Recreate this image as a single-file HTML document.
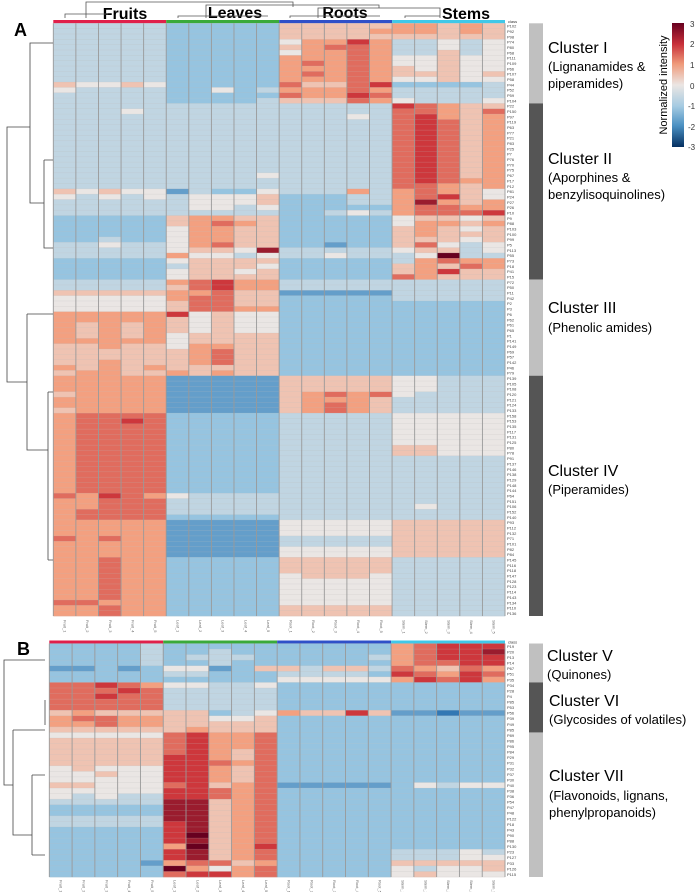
<!DOCTYPE html>
<html><head><meta charset="utf-8">
<style>
html,body{margin:0;padding:0;background:#fff;}
svg{display:block;font-family:"Liberation Sans",sans-serif;}
</style></head>
<body>
<svg id="fig" width="700" height="892" viewBox="0 0 700 892">
<g id="layerA"></g>
<g id="layerB"></g>
<g id="static">
 <text x="14" y="36" font-size="18" font-weight="bold">A</text>
 <text x="17" y="655" font-size="18" font-weight="bold">B</text>
 <g font-size="16" font-weight="bold" text-anchor="middle">
  <text x="125" y="19">Fruits</text>
  <text x="235" y="18">Leaves</text>
  <text x="345" y="18">Roots</text>
  <text x="466" y="19">Stems</text>
 </g>
 <g stroke="#555" stroke-width="0.8" fill="none">
  <path d="M86,18 V2 H293 V7"/>
  <path d="M206,18 V5 H379 V8"/>
  <path d="M318,18 V8 H440 V18"/>
  <path d="M65,18 V14 H108 M178,18 V16 H268 M290,18 V16 H380 M405,18 V16 H440"/>
 </g>
 <g font-size="14">
  <text x="548" y="53" font-size="16">Cluster I</text>
  <text x="548" y="71" font-size="13">(Lignanamides &amp;</text>
  <text x="548" y="88" font-size="13">piperamides)</text>
  <text x="548" y="164" font-size="16">Cluster II</text>
  <text x="548" y="182" font-size="13">(Aporphines &amp;</text>
  <text x="548" y="199" font-size="13">benzylisoquinolines)</text>
  <text x="548" y="313" font-size="16">Cluster III</text>
  <text x="548" y="332" font-size="13">(Phenolic amides)</text>
  <text x="548" y="476" font-size="16">Cluster IV</text>
  <text x="548" y="494" font-size="13">(Piperamides)</text>
  <text x="547" y="661" font-size="16">Cluster V</text>
  <text x="547" y="679" font-size="13">(Quinones)</text>
  <text x="549" y="706" font-size="16">Cluster VI</text>
  <text x="549" y="724" font-size="13">(Glycosides of volatiles)</text>
  <text x="549" y="781" font-size="16">Cluster VII</text>
  <text x="549" y="800" font-size="13">(Flavonoids, lignans,</text>
  <text x="549" y="817" font-size="13">phenylpropanoids)</text>
 </g>
 <defs>
  <linearGradient id="cbg" x1="0" y1="0" x2="0" y2="1">
   <stop offset="0" stop-color="#67001f"/><stop offset="0.17" stop-color="#c8303a"/>
   <stop offset="0.33" stop-color="#ef9a7a"/><stop offset="0.5" stop-color="#ebe6e3"/>
   <stop offset="0.67" stop-color="#a6cbe2"/><stop offset="0.83" stop-color="#4a90c2"/>
   <stop offset="1" stop-color="#053061"/>
  </linearGradient>
 </defs>
 <rect x="672" y="23" width="12" height="124" fill="url(#cbg)"/>
 <g font-size="8" fill="#333">
  <text x="690" y="27">3</text><text x="690" y="47">2</text><text x="690" y="68">1</text>
  <text x="690" y="89">0</text><text x="688" y="109">-1</text><text x="688" y="130">-2</text><text x="688" y="150">-3</text>
 </g>
 <text transform="translate(667,85) rotate(-90)" font-size="11" text-anchor="middle">Normalized intensity</text>
 <g stroke="#444" stroke-width="0.8" fill="none">
  <path d="M53,43 H30 V203 H44"/>
  <path d="M44,160 V248 H53 M44,160 H53"/>
  <path d="M30,127 H7 V382 H27"/>
  <path d="M27,314 V450 H48 M27,314 H53"/>
  <path d="M48,392 V560 M48,392 H53 M48,560 H53"/>
 </g>
 <g stroke="#444" stroke-width="0.8" fill="none">
  <path d="M45,660 H4 V785 H13"/>
  <path d="M13,730 V835 H32 M13,730 H45"/>
  <path d="M32,775 V855 M32,775 H45 M32,855 H45"/>
  <path d="M45,700 V725"/>
 </g>
</g>
</svg>
<script>
// Level codes: A=-2.5 B=-2 C=-1.5 D=-1 E=-0.5 F=0 G=0.5 H=1 I=1.5 J=2 K=2.5 L=3
const tissues=["Fruits","Leaves","Roots","Stems"];
const colLabels=["Fruit_1","Fruit_2","Fruit_3","Fruit_4","Fruit_5","Leaf_1","Leaf_2","Leaf_3","Leaf_4","Leaf_5","Root_1","Root_2","Root_3","Root_4","Root_5","Stem_1","Stem_2","Stem_3","Stem_4","Stem_5"];
const rowsA=["P102","P92","P98","P74","P80","P68","P111","P109","P66","P107","P58","P44","P52","P59","P104",
"P22","P150","P97","P119","P63","P77","P21","P83","P25","P7","P76","P70","P75","P67","P17","P12","P81","P24","P27","P26","P10","P9","P88","P103","P100","P99","P5","P113","P55","P73","P18","P41","P15",
"P72","P50","P11","P42","P2","P3","P6","P62","P61","P65","P1","P141","P149","P69","P57","P142","P46","P79",
"P139","P105","P108","P120","P121","P124","P133","P158","P153","P135","P117","P131","P125","P80","P78","P91","P137","P146","P138","P129","P148","P144","P64","P151","P106","P152","P140","P93","P112","P132","P71","P101","P82","P84","P145","P116","P118","P147","P128","P123","P114","P143","P134","P110","P136"];
const valsA=["EEEEEDDDDDGGGGGHHGHG","EEEEEDDDDDGGGGHHHGHG","EEEEEDDDDDGGGGGGGGGG","EEEEEDDDDDFHHJHEEFEF","EEEEEDDDDDGHIIHEEFEF","EEEEEDDDDDFHHIHEEGEF","EEEEEDDDDDHHHIHFFGFF","EEEEEDDDDDHIHIHFFGFF","EEEEEDDDDDHHHIHGFGFF","EEEEEDDDDDHIHIHGGGFG","EEEEEDDDDDHHHIHFFGFF","GFFGFDDDDDIGGIJDDDDE","FEEEEDDFDEHHHIHEEEEE","EEEEEDDDDDIHHJIEEEEE","EEEEEDDDDEGGGIHFEEEF",
"EEEEEEEEEEEEEEEJIHGG","EEEFEEEEEEEEEEEIIHGI","EEEEEEEEEEEEEFEIJHGH","EEEEEEEEEEEEEEEIJIGH","EEEEEEEEEEEEEEEIJIGH","EEEEEEEEEEEEEEEIJIGH","EEEEEEEEEEEEEEEIJIGH","EEEEEEEEEEEEEEEIJIGH","EEEEEEEEEEEEEEEIJIGH","EEEEEEEEEEEEEEEIJIGH","EEEEEEEEEEEEEEEIJIGH","EEEEEEEEEEEEEEEIJIGH","EEEEEEEEEEEEEEEIJIGH","EEEEEEEEEFEEEEEIJIGH","EEEEEEEEEEEEEEEIJIHH","EEEEEEEEEEEEEEEIIHGH","GFGFFCEDDFEEEHEHIHGF","FEFEFEFFFGDDDEEHIJGF","EEEEEEFFFGDDDEEHKHGH","EEEEEEFFEFDDDDDHIIHH","EEEEEEEEEEDDEFEHIIIJ","DDDDDGHHGGDDDDDFGGFG","DDDDDGHIHGDDDDDFHHGH","DDDDDFHHGGDDDDDGHGFG","DDDDDFHHGGDDDDDGHGGG","DDEDDFHHGGDDDDDGGGFG","EEFEEFHIGGDDCDDGIFEF","EEEEEFGGFKEEEEEFGGEF","EEEEEHFFEFEEFEEEFLEE","DDDDDFGGGGDDDDDEHIHH","DDDDDEGGGFDDDDDGHGIH","DDDDDFGGFGDDDDDGHJGG","DDDDDFGGGGDDDDDIHGGG",
"EEEEEHIJHHEEEEEEEEEE","EEEEEGIJHHEEEEEEEEEE","GGGGGHHIGGCCCCCEEEEE","FFFFFHIIGGDDDDDEEEEE","FFFFFGIIGGDDDDDDDDDD","FFFFFGIIHHDDDDDDDDDD","HHHHHJFGFFDDDDDDDDDD","HHHHHGFGFFDDDDDDDDDD","HGHGHGFGFFDDDDDDDDDD","HGHGHGFGFFDDDDDDDDDD","HGHGHFGGGGDDDDDDDDDD","HHHHHFGGGGDDDDDDDDDD","GGHGGFHHGGDDDDDDDDDD","GGGGGGHIGGDDDDDDDDDD","GGGGGGHIGGDDDDDDDDDD","GGHGGGHIGGDDDDDDDDDD","HGHGHGGGGGDDDDDDDDDD","GHHGGHGHGGDDDDDDDDDD",
"HHHHHCCCCCGGGGGFFEEE","HHHHHCCCCCGGGGGFFEEE","HHHHHCCCCCGGGGGFFEEE","GHHHHCCCCCGHIHIFEEEE","HHHHHCCCCCGHHHGEEEEE","HHHHHCCCCCGHIHGEEEEE","GHHHHCCCCCGHIHGEEEEE","HIIIIDDDDDEEEEEFFFFF","HIIJIDDDDDEEEEEFFFFF","HIIIIDDDDDEEEEEFFFFF","HIIIIDDDDDEEEEEFFFFF","HIIIIDDDDDEEEEEFFFFF","HIIIIDDDDDEEEEEFFFFF","HIIIIDDDDDEEEEEGGFFF","HIIIIDDDDDEEEEEGGFFF","HIIIIDDDDDEEEEEEEEEE","HIIIIDDDDDEEEEEEEEEE","HIIIIDDDDDEEEEEEEEEE","HIIIIDDDDDEEEEEEEEEE","HIIIIDDDDDEEEEEEEEEE","HIIIIDDDDDEEEEEEEEEE","HIIIIDDDDDEEEEEEEEEE","IHJIHFEEEEEEEEEEEEEE","HHIIIEEEEEEEEEEEEEEE","HHIIIEEEEEEEEEEEFEEE","HIIIIEEEEEEEEEEEEEEE","HIIIIDDDDDEEEEEEEEEE","HHHHHCCCCCFFFFFGGGGG","HHHHHCCCCCFFFFFGGGGG","HHHHHCCCCCFFFFFGGGGG","IHIHHCCCCCEEEEEGGGGG","HHHHHCCCCCEEEEEGGGGG","HHHHHCCCCCFFFFFGGGGG","HHHHHCCCCCFFFFFGGGGG","HHIHHDDDDDGGGGGEEEEE","HHIHHDDDDDGGGGGEEEEE","HHIHHDDDDDGGGGGEEEEE","HHIHHDDDDDFGGGFEEEEE","HHIHHDDDDDFFFFFEEEEE","HHIHHDDDDDFFFFFEEEEE","HHIHHDDDDDFFFFFEEEEE","HHIHHDDDDDFFFFFEEEEE","IIHHHDDDDDFFFFFEEEEE","HHIHHDDDDDGGGGGEEEEE","HHIHHDDDDDGGGGGEEEEE"];
const rowsB=["P19","P20","P13","P14","P67","P51","P35","P34","P28","P4","P85","P53","P56","P39","P49","P85",
"P89","P86","P95","P84","P29","P31","P32","P37","P30","P40","P38","P36","P54","P47","P48","P122","P18","P43","P90","P88","P130","P23","P127","P33","P126","P115"];
const valsB=["DDDDEDDDDDDDDDDHIJJJ","DDDDEDDEDDDDDDDHIJJK","DDDDEDEEEDDDDDEHIJJJ","DDDDEDDEDDDDDDDHIIJJ","CCDCDFFCDGGEGGEIHGIH","DDDDDEEDDDEEEEDJIHJI","DDDDDDDDDDFFFFFHJIJH",
"IIJIHFFEEFDDDDDDDDDD","IIIJIEEEEEDDDDDDDDDD","IIJIIEEEEEDDDDDDDDDD","IIIIIEEEEEDDDDDDDDDD","IIIIIEEEEEDDDDDDDDDD","GHGGGGGDEFHGGJGCCBCC","HIIHHGGFFGDDDDDDDDDD","HHIHHGGGGGDDDDDDDDDD","GGGGGGHGGGDDDDDDDDDD",
"FFFFFIJHHIDDDDDDDDDD","GGGGGIJHHIDDDDDDDDDD","GGGGGIJHHIDDDDDDDDDD","GGGGGIJHGIDDDDDDDDDD","GGGGGJJHGIDDDDDDDDDD","GGGGGJJIHIDDDDDDDDDD","FGFFFJJHGIDDDDDDDDDD","FFGFFJJHGIDDDDDDDDDD","FFFFFJJHGIDDDDDDDDDD","GGFFFIJGHICCCCCDFEFF","FFFFFJJIHIDDDDDDDDDD","FEFEEJJIHIDDDDDDDDDD","EEEEEKKGHIDDDDDDDDDD","DDDDDKKGHIDDDDDDDDDD","DDDDDKKGHIDDDDDDDDDD","EEEEEKKGHIDDDDDDDDDD","EEEEEJKGHIDDDDDDDDDD","DDDDDJKGHIDDDDDDDDDD","DDDDDJLGHIDDDDDDDDDD","DDDDDJKGHIDDDDDDDDDD","DDDDDHLGHJDDDDDDDDDD","DDDDDJKGHIDDDDDEEEFE","DDDDDJKGHIDDDDDEEEFF","DDDDCHIIGHDDDDDGGGGG","DDDDDLHFHIDDDDDFEFFG","DDDDDIJJHIDDDDDFGFFF"];
const clustersA=[["I",15,"#c0c0c0"],["II",33,"#555"],["III",18,"#c0c0c0"],["IV",45,"#555"]];
const clustersB=[["V",7,"#c0c0c0"],["VI",9,"#555"],["VII",26,"#c0c0c0"]];

const NS="http://www.w3.org/2000/svg";
const tissueColors=["#e0204a","#3aaa3a","#3050c8","#40c8e8"];
const stops=[[-3,[5,48,97]],[-2,[50,120,180]],[-1,[150,196,224]],[0,[234,230,228]],[1,[243,160,128]],[2,[205,55,60]],[3,[103,0,31]]];
function levelValue(ch){return (ch.charCodeAt(0)-65)*0.5-2.5;}
function colorScale(v){
  v=Math.max(-3,Math.min(3,v));
  for(let i=0;i<stops.length-1;i++){
    const [a,ca]=stops[i],[b,cb]=stops[i+1];
    if(v<=b){const t=(v-a)/(b-a);
      return "rgb("+ca.map((c,k)=>Math.round(c+(cb[k]-c)*t)).join(",")+")";}
  }
  return "rgb(103,0,31)";
}
function mk(tag,attrs,parent){const e=document.createElementNS(NS,tag);for(const k in attrs)e.setAttribute(k,attrs[k]);parent.appendChild(e);return e;}

function drawPanel(layer,rows,vals,clusters,x0,x1,yBar,y0,y1,colLabY){
  const nC=colLabels.length,cw=(x1-x0)/nC,rh=(y1-y0)/rows.length;
  const xs=i=>x0+i*cw, ys=j=>y0+j*rh;
  for(let t=0;t<tissues.length;t++){
    const r=mk("rect",{x:xs(t*5),y:yBar,width:cw*5,height:y0-yBar,fill:tissueColors[t]},layer);
    
    
  }
  mk("text",{x:x1+3,y:yBar+3,"font-size":"4","fill":"#333"},layer).textContent="class";
  const g=mk("g",{},layer);
  
  
  for(let j=0;j<rows.length;j++){
    for(let i=0;i<nC;i++){
      const v=levelValue(vals[j][i]);
      const c=mk("rect",{x:xs(i),y:ys(j),width:cw+0.3,height:rh+0.3,fill:colorScale(v)},g);
      
      
    }
    const lab=mk("text",{x:x1+2,y:ys(j)+rh*0.8,"font-size":"4","fill":"#444"},layer);
    lab.textContent=rows[j];
    
    
  }
  for(let j=0;j<=rows.length;j++) mk("line",{x1:x0,x2:x1,y1:ys(j),y2:ys(j),stroke:"#bbb","stroke-width":"0.3","stroke-opacity":"0.6"},g);
  for(let i=0;i<=nC;i++) mk("line",{x1:xs(i),x2:xs(i),y1:y0,y2:y1,stroke:"#999","stroke-width":"0.9"},g);
  let acc=0;
  clusters.forEach(cl=>{
    const b=mk("rect",{x:529,y:ys(acc),width:14,height:cl[1]*rh,fill:cl[2]},layer);
    
    
    acc+=cl[1];
  });
  for(let i=0;i<nC;i++){
    const t=mk("text",{transform:"translate("+(xs(i)+cw/2-1)+","+colLabY+") rotate(90)","font-size":"4","fill":"#666"},layer);
    t.textContent=colLabels[i];
    
    
  }
}
drawPanel(document.getElementById("layerA"),rowsA,valsA,clustersA,53.3,505,20,23.3,616,620);
drawPanel(document.getElementById("layerB"),rowsB,valsB,clustersB,49.3,505,640.5,643.5,877,880);
</script>
</body></html>
